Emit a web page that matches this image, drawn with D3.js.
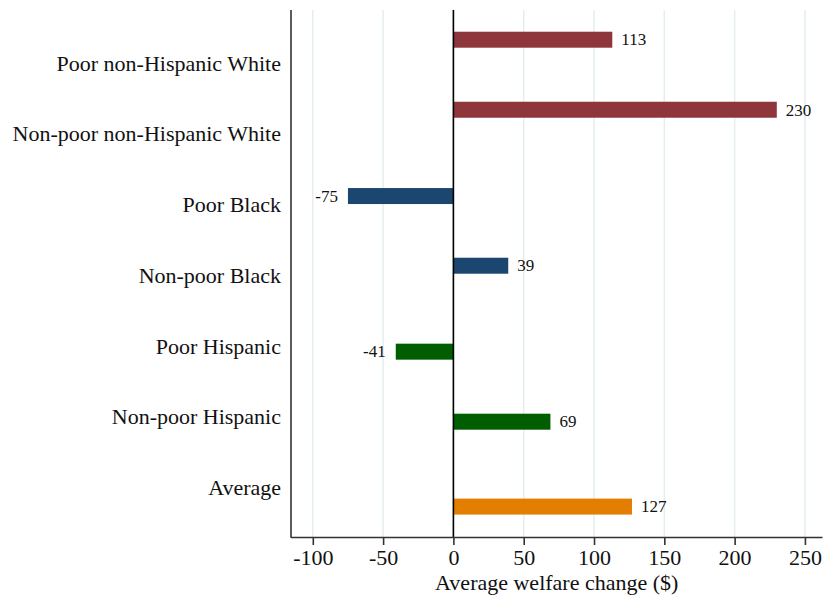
<!DOCTYPE html>
<html>
<head>
<meta charset="utf-8">
<script src="https://cdn.jsdelivr.net/npm/d3@7"></script>
<style>
  html, body { margin: 0; padding: 0; background: #fff; }
  svg { display: block; }
  text { font-family: "Liberation Serif", "Times New Roman", serif; fill: #111; }
</style>
</head>
<body>
<svg id="chart" width="823" height="597"></svg>
<script>
// ---- data ----
const categories = ["Poor non-Hispanic White", "Non-poor non-Hispanic White", "Poor Black", "Non-poor Black", "Poor Hispanic", "Non-poor Hispanic", "Average"];
const values = [113, 230, -75, 39, -41, 69, 127];
const groups = ["White", "White", "Black", "Black", "Hispanic", "Hispanic", "Average"];
const labelPos = [1, 2, 3, 4, 5, 6, 7];            // category label positions (category units)
const barPos = [0.67, 1.66, 2.88, 3.865, 5.08, 6.07, 7.27]; // bar centre positions (category units)
const xTicks = [-100, -50, 0, 50, 100, 150, 200, 250];
const xTitle = "Average welfare change ($)";
const groupColors = { White: "#8f353c", Black: "#1a466f", Hispanic: "#005e00", Average: "#e47e00" };

// ---- layout ----
const svg = d3.select("#chart");
const mLeft = 291, mRight = 822.5, mTop = 10, mBottom = 537;

const x = d3.scaleLinear().domain([-115.5, 262.5]).range([mLeft, mRight]);
const y = d3.scaleLinear().domain([0.25, 7.7]).range([mTop, mBottom]);
const barHalf = 0.113;

// gridlines
svg.append("g").selectAll("line").data(xTicks).join("line")
  .attr("x1", d => x(d)).attr("x2", d => x(d))
  .attr("y1", mTop).attr("y2", mBottom)
  .attr("stroke", "#e4eef0").attr("stroke-width", 1.5);

// bars
svg.append("g").selectAll("rect").data(values).join("rect")
  .attr("x", d => Math.min(x(0), x(d)))
  .attr("width", d => Math.abs(x(d) - x(0)))
  .attr("y", (d, i) => y(barPos[i] - barHalf))
  .attr("height", (d, i) => y(barPos[i] + barHalf) - y(barPos[i] - barHalf))
  .attr("fill", (d, i) => groupColors[groups[i]]);

// zero line
svg.append("line")
  .attr("x1", x(0)).attr("x2", x(0)).attr("y1", mTop).attr("y2", mBottom)
  .attr("stroke", "#000").attr("stroke-width", 1.6);

// value labels
svg.append("g").selectAll("text").data(values).join("text")
  .attr("x", d => d >= 0 ? x(d) + 9 : x(d) - 10)
  .attr("y", (d, i) => y(barPos[i]))
  .attr("dy", "0.34em")
  .attr("text-anchor", d => d >= 0 ? "start" : "end")
  .style("font-size", "17px")
  .text(d => d);

// category labels
svg.append("g").selectAll("text").data(categories).join("text")
  .attr("x", mLeft - 10)
  .attr("y", (d, i) => y(labelPos[i]))
  .attr("dy", "0.35em")
  .attr("text-anchor", "end")
  .style("font-size", "22px")
  .text(d => d);

// left axis line
svg.append("line")
  .attr("x1", mLeft).attr("x2", mLeft).attr("y1", mTop).attr("y2", mBottom + 0.8)
  .attr("stroke", "#333").attr("stroke-width", 1.6);

// bottom axis
const xAxis = d3.axisBottom(x).tickValues(xTicks).tickSize(8).tickPadding(4).tickSizeOuter(0)
  .tickFormat(d => String(d));
const gx = svg.append("g").attr("transform", `translate(0,${mBottom})`).call(xAxis);
gx.select(".domain").attr("stroke", "#333").attr("stroke-width", 1.6)
  .attr("d", `M${mLeft},0.5H${mRight}`);
gx.selectAll(".tick line").attr("stroke", "#333").attr("stroke-width", 1.6);
gx.selectAll(".tick text")
  .style("font-family", "'Liberation Serif', 'Times New Roman', serif")
  .style("font-size", "22px").attr("fill", "#111");

// axis title
svg.append("text")
  .attr("x", (mLeft + mRight) / 2).attr("y", 590)
  .attr("text-anchor", "middle")
  .style("font-size", "22px")
  .text(xTitle);
</script>
</body>
</html>
